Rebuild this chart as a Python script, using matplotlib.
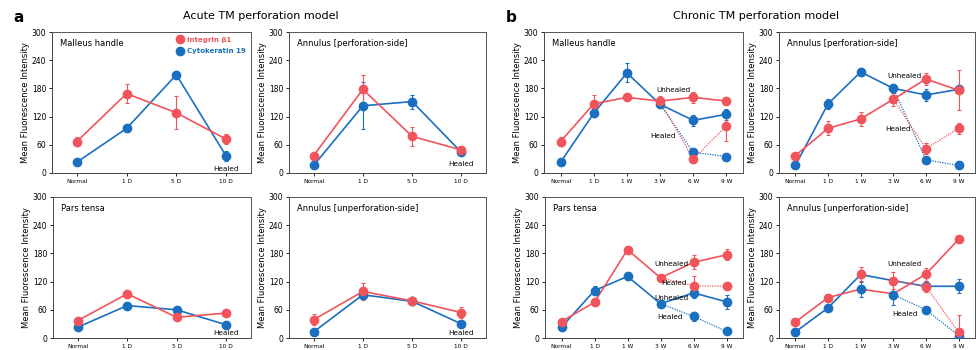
import matplotlib
matplotlib.use("Agg")
import matplotlib.pyplot as plt
from matplotlib.lines import Line2D

# x categories
acute_x = ['Normal', '1 D', '5 D', '10 D']
chronic_x = ['Normal', '1 D', '1 W', '3 W', '6 W', '9 W']

# acute model, Integrin b1 (itg) and Cytokeratin 19 (ck)
ac_mh_itg = [67, 169, 128, 72]
ac_mh_itg_err = [10, 20, 35, 10]
ac_mh_ck = [23, 95, 209, 36]
ac_mh_ck_err = [3, 8, 7, 10]

ac_ap_itg = [37, 178, 78, 49]
ac_ap_itg_err = [4, 30, 20, 4]
ac_ap_ck = [16, 143, 152, 44]
ac_ap_ck_err = [3, 50, 15, 4]

ac_pt_itg = [37, 94, 44, 53]
ac_pt_itg_err = [4, 7, 4, 6]
ac_pt_ck = [23, 69, 60, 28]
ac_pt_ck_err = [3, 3, 5, 3]

ac_au_itg = [39, 99, 79, 54]
ac_au_itg_err = [12, 18, 8, 12]
ac_au_ck = [13, 92, 78, 30]
ac_au_ck_err = [3, 8, 8, 5]

# chronic model: unhealed over all points, healed at 6 W and 9 W
ch_mh_itg = [67, 147, 161, 153, 161, 153]
ch_mh_itg_err = [10, 18, 5, 10, 12, 7]
ch_mh_itg_healed = [30, 100]
ch_mh_itg_healed_err = [8, 32]
ch_mh_ck = [23, 127, 213, 146, 112, 125]
ch_mh_ck_err = [3, 8, 20, 5, 12, 12]
ch_mh_ck_healed = [44, 35]
ch_mh_ck_healed_err = [3, 3]

ch_ap_itg = [37, 95, 115, 157, 200, 176]
ch_ap_itg_err = [3, 15, 15, 15, 12, 43]
ch_ap_itg_healed = [52, 95]
ch_ap_itg_healed_err = [12, 12]
ch_ap_ck = [16, 147, 215, 180, 166, 178]
ch_ap_ck_err = [3, 10, 8, 10, 12, 8]
ch_ap_ck_healed = [28, 16]
ch_ap_ck_healed_err = [3, 3]

ch_pt_itg = [35, 76, 188, 128, 161, 177]
ch_pt_itg_err = [4, 7, 4, 4, 15, 12]
ch_pt_itg_healed = [111, 110]
ch_pt_itg_healed_err = [20, 5]
ch_pt_ck = [23, 101, 131, 73, 96, 77]
ch_pt_ck_err = [3, 10, 7, 4, 10, 15]
ch_pt_ck_healed = [46, 14]
ch_pt_ck_healed_err = [10, 3]

# in the original the connecting lines of this panel do not pass through the markers
ch_au_itg = [34, 86, 136, 122, 136, 210]
ch_au_itg_line = [34, 86, 104, 94, 136, 210]
ch_au_itg_err = [4, 8, 15, 18, 14, 4]
ch_au_itg_healed = [109, 12]
ch_au_itg_healed_err = [12, 37]
ch_au_ck = [13, 64, 104, 92, 110, 110]
ch_au_ck_line = [13, 64, 135, 122, 110, 110]
ch_au_ck_err = [3, 4, 16, 22, 10, 15]
ch_au_ck_healed = [60, 5]
ch_au_ck_healed_err = [3, 15]

RED = '#f2545b'
BLUE = '#1a6fc0'

plt.rcParams['font.family'] = 'DejaVu Sans'
fig = plt.figure(figsize=(9.76, 3.5), dpi=100)


def make_ax(x0, x1, y0, y1, labels, title):
    ax = fig.add_axes([x0 / 976, 1 - y1 / 350, (x1 - x0) / 976, (y1 - y0) / 350])
    ax.set_xlim(-0.5, len(labels) - 0.5)
    ax.set_ylim(0, 300)
    ax.set_yticks([0, 60, 120, 180, 240, 300])
    ax.set_xticks(range(len(labels)))
    ax.set_xticklabels(labels, fontsize=4.2)
    ax.tick_params(axis='y', labelsize=5.5, length=2.5, width=0.6, pad=1.5)
    ax.tick_params(axis='x', length=2.5, width=0.6, pad=1.5)
    ax.set_ylabel('Mean Fluorescence Intensity', fontsize=6, labelpad=1)
    for s in ['top', 'right']:
        ax.spines[s].set_color('#555555')
        ax.spines[s].set_linewidth(0.7)
    for s in ['left', 'bottom']:
        ax.spines[s].set_color('#444444')
        ax.spines[s].set_linewidth(0.7)
    ax.text(0.04, 0.95, title, transform=ax.transAxes, fontsize=6, va='top')
    return ax


def series(ax, vals, err, color, line=None):
    x = range(len(vals))
    ax.plot(x, vals if line is None else line, color=color, lw=1.2, zorder=2)
    ax.errorbar(x, vals, yerr=err, fmt='o', color=color, ms=6, capsize=1.5,
                elinewidth=0.8, capthick=0.8, zorder=3)


def healed(ax, start, vals, err, color):
    ax.plot([3, 4, 5], [start] + vals, color=color, lw=0.9, ls=(0, (1, 1)), zorder=2)
    ax.errorbar([4, 5], vals, yerr=err, fmt='o', color=color, ms=6, capsize=1.5,
                elinewidth=0.8, capthick=0.8, zorder=3)


def note(ax, x, y, s):
    ax.text(x, y, s, fontsize=5.2, ha='center', va='center', zorder=4)


# ---- a: acute ----
ax = make_ax(52, 251, 32, 173, acute_x, 'Malleus handle')
series(ax, ac_mh_ck, ac_mh_ck_err, BLUE)
series(ax, ac_mh_itg, ac_mh_itg_err, RED)
note(ax, 3, 8, 'Healed')
handles = [Line2D([], [], ls='none', marker='o', ms=6, color=RED),
           Line2D([], [], ls='none', marker='o', ms=6, color=BLUE)]
ax.legend(handles, ['Integrin β1', 'Cytokeratin 19'], loc='upper right', frameon=False,
          prop={'size': 5, 'weight': 'bold'}, labelcolor=[RED, BLUE], handlelength=0.8,
          handletextpad=0.6, borderaxespad=0.3, labelspacing=0.8)

ax = make_ax(289, 486, 32, 173, acute_x, 'Annulus [perforation-side]')
series(ax, ac_ap_ck, ac_ap_ck_err, BLUE)
series(ax, ac_ap_itg, ac_ap_itg_err, RED)
note(ax, 3, 20, 'Healed')

ax = make_ax(53, 251, 197, 338, acute_x, 'Pars tensa')
series(ax, ac_pt_ck, ac_pt_ck_err, BLUE)
series(ax, ac_pt_itg, ac_pt_itg_err, RED)
note(ax, 3, 11, 'Healed')

ax = make_ax(289, 486, 197, 338, acute_x, 'Annulus [unperforation-side]')
series(ax, ac_au_ck, ac_au_ck_err, BLUE)
series(ax, ac_au_itg, ac_au_itg_err, RED)
note(ax, 3, 11, 'Healed')

# ---- b: chronic ----
ax = make_ax(544, 743, 32, 173, chronic_x, 'Malleus handle')
series(ax, ch_mh_ck, ch_mh_ck_err, BLUE)
healed(ax, ch_mh_ck[3], ch_mh_ck_healed, ch_mh_ck_healed_err, BLUE)
series(ax, ch_mh_itg, ch_mh_itg_err, RED)
healed(ax, ch_mh_itg[3], ch_mh_itg_healed, ch_mh_itg_healed_err, RED)
note(ax, 3.4, 176, 'Unhealed')
note(ax, 3.1, 78, 'Healed')

ax = make_ax(779, 975, 32, 173, chronic_x, 'Annulus [perforation-side]')
series(ax, ch_ap_ck, ch_ap_ck_err, BLUE)
healed(ax, ch_ap_ck[3], ch_ap_ck_healed, ch_ap_ck_healed_err, BLUE)
series(ax, ch_ap_itg, ch_ap_itg_err, RED)
healed(ax, ch_ap_itg[3], ch_ap_itg_healed, ch_ap_itg_healed_err, RED)
note(ax, 3.35, 206, 'Unhealed')
note(ax, 3.15, 94, 'Healed')

ax = make_ax(545, 743, 197, 338, chronic_x, 'Pars tensa')
series(ax, ch_pt_ck, ch_pt_ck_err, BLUE)
healed(ax, ch_pt_ck[3], ch_pt_ck_healed, ch_pt_ck_healed_err, BLUE)
series(ax, ch_pt_itg, ch_pt_itg_err, RED)
healed(ax, ch_pt_itg[3], ch_pt_itg_healed, ch_pt_itg_healed_err, RED)
note(ax, 3.32, 158, 'Unhealed')
note(ax, 3.4, 116, 'Healed')
note(ax, 3.32, 85, 'Unhealed')
note(ax, 3.3, 44, 'Healed')

ax = make_ax(779, 975, 197, 338, chronic_x, 'Annulus [unperforation-side]')
series(ax, ch_au_ck, ch_au_ck_err, BLUE, line=ch_au_ck_line)
healed(ax, ch_au_ck[3], ch_au_ck_healed, ch_au_ck_healed_err, BLUE)
series(ax, ch_au_itg, ch_au_itg_err, RED, line=ch_au_itg_line)
healed(ax, ch_au_itg[3], ch_au_itg_healed, ch_au_itg_healed_err, RED)
note(ax, 3.35, 157, 'Unhealed')
note(ax, 3.35, 52, 'Healed')

# headings
fig.text(13 / 976, 1 - 17 / 350, 'a', fontsize=11, fontweight='bold', va='center')
fig.text(506 / 976, 1 - 17 / 350, 'b', fontsize=11, fontweight='bold', va='center')
fig.text(261 / 976, 1 - 16 / 350, 'Acute TM perforation model', fontsize=8, ha='center', va='center')
fig.text(756 / 976, 1 - 16 / 350, 'Chronic TM perforation model', fontsize=8, ha='center', va='center')

fig.savefig('out.png', dpi=100)
